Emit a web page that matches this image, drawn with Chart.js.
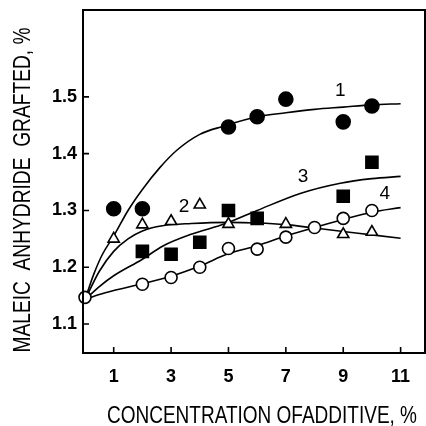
<!DOCTYPE html>
<html>
<head>
<meta charset="utf-8">
<script src="https://cdn.jsdelivr.net/npm/chart.js@4"></script>
<style>
  html, body { margin: 0; padding: 0; background: #fff; }
  canvas { display: block; }
</style>
</head>
<body>
<canvas id="chart" width="426" height="426"></canvas>
<script>
const s1X = [1, 2, 5, 6, 7, 9, 10];
const s1Y = [1.303, 1.303, 1.447, 1.465, 1.496, 1.456, 1.484];
const s2X = [1, 2, 3, 4, 5, 7, 9, 10];
const s2Y = [1.250, 1.275, 1.281, 1.310, 1.276, 1.276, 1.258, 1.262];
const s3X = [2, 3, 4, 5, 6, 9, 10];
const s3Y = [1.228, 1.223, 1.244, 1.300, 1.286, 1.325, 1.385];
const s4X = [0, 2, 3, 4, 5, 6, 7, 8, 9, 10];
const s4Y = [1.147, 1.170, 1.182, 1.200, 1.233, 1.232, 1.253, 1.270, 1.286, 1.300];

// fitted curves
const c1X = [0, 0.3, 0.6, 1.0, 1.5, 2.0, 2.6, 3.2, 4.0, 4.8, 6.0, 7.0, 8.0, 9.0, 10.0, 11.0];
const c1Y = [1.143, 1.187, 1.222, 1.255, 1.300, 1.337, 1.375, 1.406, 1.434, 1.448, 1.465, 1.472, 1.478, 1.482, 1.486, 1.488];
const c2X = [0, 0.5, 1.0, 1.5, 2.0, 2.7, 3.7, 5.0, 6.0, 7.0, 8.0, 9.0, 10.0, 11.0];
const c2Y = [1.143, 1.193, 1.228, 1.250, 1.264, 1.273, 1.277, 1.279, 1.278, 1.275, 1.269, 1.263, 1.257, 1.251];
const c3X = [0, 0.5, 1.0, 2.0, 2.7, 3.7, 4.9, 6.0, 7.5, 8.9, 10.0, 11.0];
const c3Y = [1.143, 1.166, 1.185, 1.214, 1.237, 1.258, 1.277, 1.300, 1.330, 1.348, 1.356, 1.360];
const c4X = [0, 0.5, 1.0, 2.0, 3.0, 4.0, 5.0, 6.0, 7.0, 8.0, 9.0, 10.0, 11.0];
const c4Y = [1.143, 1.152, 1.159, 1.171, 1.184, 1.202, 1.224, 1.238, 1.255, 1.270, 1.284, 1.297, 1.305];

// curve numbers, placed in data units
const curveLabels = ["1", "2", "3", "4"];
const curveLabelX = [8.9, 3.45, 7.6, 10.45];
const curveLabelY = [1.51, 1.307, 1.36, 1.33];

const xTickValues = [1, 3, 5, 7, 9, 11];
const yTickValues = [1.1, 1.2, 1.3, 1.4, 1.5];
const xTitle = "CONCENTRATION OFADDITIVE, %";
const yTitle = "MALEIC  ANHYDRIDE  GRAFTED, %";

const pts = (xs, ys) => xs.map((x, i) => ({x: x, y: ys[i]}));

function curve(xs, ys) {
    return {
        data: pts(xs, ys),
        showLine: true,
        borderColor: "#000",
        borderWidth: 1.6,
        pointRadius: 0,
        cubicInterpolationMode: "monotone",
        order: 2
    };
}
function marks(xs, ys, style, r, filled) {
    return {
        data: pts(xs, ys),
        showLine: false,
        pointStyle: style,
        pointRadius: r,
        pointBorderWidth: 1.6,
        pointBorderColor: "#000",
        pointBackgroundColor: filled ? "#000" : "#fff",
        clip: false,
        order: 1
    };
}

const labelFont = '"Liberation Sans Narrow", "Liberation Sans", Arial, sans-serif';

const framePlugin = {
    id: "frame",
    afterDatasetsDraw(chart) {
        const {ctx, chartArea: a, scales: {x, y}} = chart;
        ctx.save();
        ctx.strokeStyle = "#000";
        ctx.lineWidth = 2;
        ctx.strokeRect(a.left, a.top, a.right - a.left, a.bottom - a.top);
        // inward tick marks
        ctx.lineWidth = 1.6;
        ctx.beginPath();
        yTickValues.forEach(v => {
            const py = y.getPixelForValue(v);
            ctx.moveTo(a.left, py);
            ctx.lineTo(a.left + 6, py);
        });
        xTickValues.forEach(v => {
            const px = x.getPixelForValue(v);
            ctx.moveTo(px, a.bottom);
            ctx.lineTo(px, a.bottom - 6);
        });
        ctx.stroke();
        // curve numbers
        ctx.fillStyle = "#000";
        ctx.font = "19px " + labelFont;
        ctx.textAlign = "center";
        ctx.textBaseline = "middle";
        curveLabels.forEach((t, i) => {
            ctx.fillText(t, x.getPixelForValue(curveLabelX[i]), y.getPixelForValue(curveLabelY[i]));
        });
        // axis titles
        ctx.font = "23px " + labelFont;
        ctx.fillText(xTitle, 262, 417, 310);
        ctx.translate(24, 190);
        ctx.rotate(-Math.PI / 2);
        ctx.fillText(yTitle, 0, 0, 325);
        ctx.restore();
    }
};

const bgPlugin = {
    id: "bg",
    beforeDraw(chart) {
        const ctx = chart.ctx;
        ctx.save();
        ctx.fillStyle = "#fff";
        ctx.fillRect(0, 0, chart.width, chart.height);
        ctx.restore();
    }
};

const tickFont = {family: '"Liberation Sans", Arial, sans-serif', size: 18, weight: "bold"};

new Chart(document.getElementById("chart"), {
    type: "scatter",
    data: {
        datasets: [
            curve(c1X, c1Y), curve(c2X, c2Y), curve(c3X, c3Y), curve(c4X, c4Y),
            marks(s1X, s1Y, "circle", 7, true),
            marks(s2X, s2Y, "triangle", 6.5, false),
            marks(s3X, s3Y, "rect", 8.5, true),
            marks(s4X, s4Y, "circle", 6, false)
        ]
    },
    options: {
        responsive: false,
        animation: false,
        devicePixelRatio: 1,
        layout: {autoPadding: false, padding: {top: 10, right: 1, left: 0, bottom: 0}},
        plugins: {legend: {display: false}, tooltip: {enabled: false}},
        scales: {
            x: {
                type: "linear",
                min: -0.07,
                max: 11.85,
                border: {display: false},
                grid: {display: false, drawTicks: false},
                afterBuildTicks: s => { s.ticks = xTickValues.map(v => ({value: v})); },
                afterFit: s => { s.height = 73; s.paddingLeft = 0; s.paddingRight = 0; },
                ticks: {color: "#000", font: tickFont, padding: 13, maxRotation: 0,
                        callback: v => String(v)}
            },
            y: {
                min: 1.049,
                max: 1.653,
                border: {display: false},
                grid: {display: false, drawTicks: false},
                afterBuildTicks: s => { s.ticks = yTickValues.map(v => ({value: v})); },
                afterFit: s => { s.width = 83; s.paddingTop = 0; s.paddingBottom = 0; },
                ticks: {color: "#000", font: tickFont, padding: 6,
                        callback: v => v.toFixed(1)}
            }
        }
    },
    plugins: [bgPlugin, framePlugin]
});
</script>
</body>
</html>
